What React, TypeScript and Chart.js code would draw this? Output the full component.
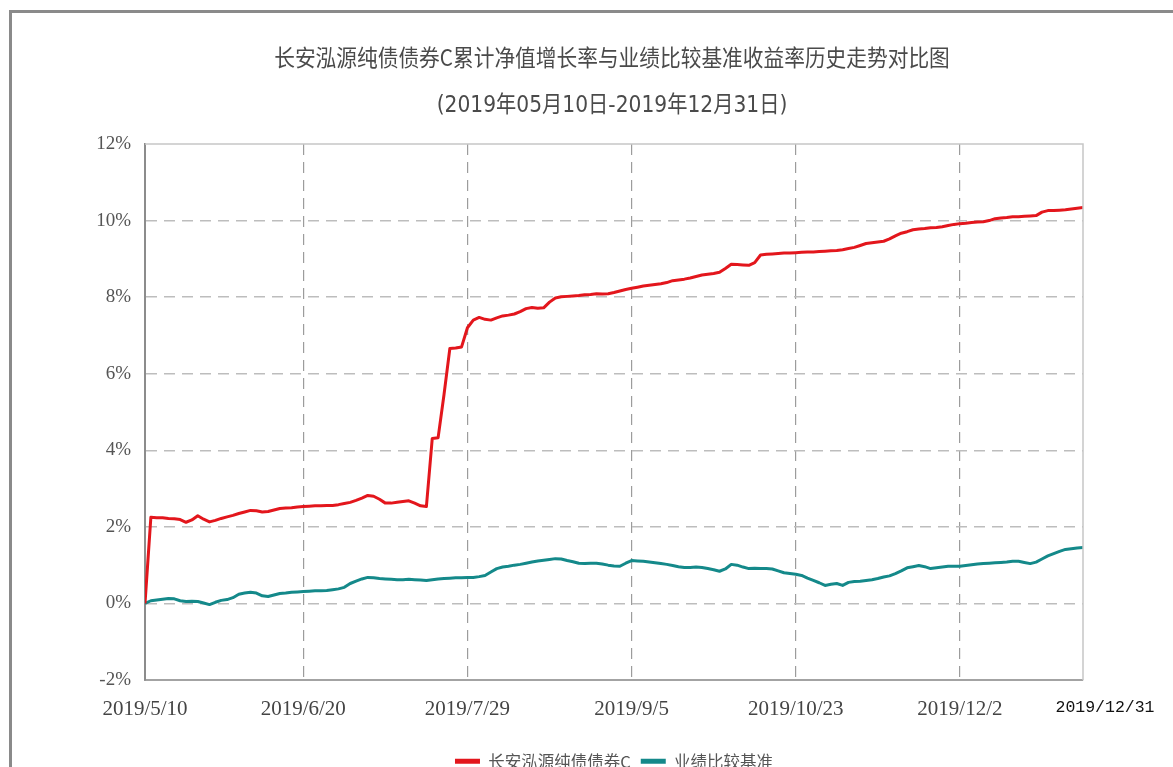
import { useEffect, useRef } from "react";
import { Chart, registerables } from "chart.js";

Chart.register(...registerables);

const titleText = "长安泓源纯债债券C累计净值增长率与业绩比较基准收益率历史走势对比图";
const subtitleText = "(2019年05月10日-2019年12月31日)";
const seriesNames = ["长安泓源纯债债券C", "业绩比较基准"];
const seriesColors = ["#e3161c", "#14898a"];

const xTickIndex = [0, 27, 55, 83, 111, 139];
const xTickLabels = ["2019/5/10", "2019/6/20", "2019/7/29", "2019/9/5", "2019/10/23", "2019/12/2"];
const lastIndex = 160;
const lastLabel = "2019/12/31";
const yMin = -2;
const yMax = 12;
const yStep = 2;

const fundValues = [
  0, 2.25, 2.24, 2.24, 2.22, 2.21, 2.19, 2.12, 2.18, 2.29,
  2.2, 2.13, 2.17, 2.22, 2.26, 2.3, 2.35, 2.39, 2.43, 2.42,
  2.39, 2.4, 2.44, 2.48, 2.49, 2.5, 2.52, 2.53, 2.54, 2.55,
  2.55, 2.56, 2.56, 2.58, 2.61, 2.64, 2.69, 2.75, 2.82, 2.8,
  2.72, 2.62, 2.62, 2.64, 2.66, 2.68, 2.62, 2.55, 2.53, 4.31,
  4.33, 5.45, 6.66, 6.67, 6.7, 7.2, 7.4, 7.47, 7.42, 7.4,
  7.46, 7.51, 7.53, 7.56, 7.62, 7.7, 7.73, 7.71, 7.72, 7.87,
  7.98, 8.01, 8.02, 8.03, 8.04, 8.06, 8.07, 8.09, 8.08, 8.09,
  8.12, 8.16, 8.2, 8.23, 8.26, 8.29, 8.31, 8.33, 8.35, 8.38,
  8.43, 8.45, 8.47, 8.5, 8.54, 8.58, 8.6, 8.62, 8.65, 8.75,
  8.86, 8.85, 8.84, 8.83, 8.9, 9.1, 9.12, 9.13, 9.14, 9.15,
  9.15, 9.16, 9.17, 9.18, 9.18, 9.19, 9.2, 9.21, 9.22, 9.24,
  9.27, 9.3, 9.35, 9.4, 9.42, 9.44, 9.46, 9.52, 9.6, 9.67,
  9.71, 9.76, 9.78, 9.79, 9.81, 9.82, 9.84, 9.87, 9.9, 9.92,
  9.93, 9.95, 9.96, 9.97, 10.0, 10.05, 10.07, 10.08, 10.1, 10.1,
  10.11, 10.12, 10.13, 10.22, 10.26, 10.26, 10.27, 10.28, 10.3, 10.32, 10.34,
];

const benchValues = [
  0, 0.07, 0.09, 0.11, 0.13, 0.12, 0.07, 0.05, 0.06, 0.05,
  0.01, -0.03, 0.03, 0.08, 0.1, 0.15, 0.24, 0.27, 0.29, 0.27,
  0.2, 0.18, 0.22, 0.26, 0.27, 0.29, 0.3, 0.31, 0.32, 0.33,
  0.33, 0.34, 0.36, 0.38, 0.42, 0.52, 0.58, 0.64, 0.68, 0.67,
  0.65, 0.64, 0.63, 0.62, 0.62, 0.63, 0.62, 0.61, 0.6, 0.62,
  0.64, 0.65, 0.66, 0.67, 0.67, 0.68, 0.68, 0.7, 0.73, 0.82,
  0.91, 0.95, 0.97, 1.0, 1.02, 1.05, 1.08, 1.11, 1.13, 1.15,
  1.17, 1.16, 1.12, 1.09, 1.05, 1.04, 1.05, 1.05, 1.03, 1.0,
  0.98, 0.97, 1.05, 1.12, 1.11, 1.1, 1.08, 1.06, 1.04, 1.02,
  0.99, 0.96, 0.94, 0.94, 0.95, 0.94, 0.91, 0.88, 0.84, 0.9,
  1.02, 1.0, 0.95, 0.91, 0.92, 0.91, 0.91, 0.9, 0.85, 0.8,
  0.78, 0.76, 0.73, 0.66, 0.6, 0.54, 0.47, 0.5, 0.52, 0.47,
  0.55, 0.57, 0.58, 0.6, 0.62, 0.65, 0.69, 0.72, 0.78, 0.85,
  0.93, 0.96, 0.99, 0.96, 0.91, 0.93, 0.95, 0.97, 0.97, 0.97,
  0.99, 1.01, 1.03, 1.04, 1.05, 1.06, 1.07, 1.08, 1.1, 1.1,
  1.07, 1.04, 1.08, 1.16, 1.24, 1.3, 1.36, 1.41, 1.43, 1.45, 1.46,
];

const decorPlugin = {
  id: "decor",
  afterDraw(chart: any) {
    const ctx = chart.ctx as CanvasRenderingContext2D;
    const a = chart.chartArea;
    ctx.save();
    // plot frame (top & right)
    ctx.strokeStyle = "#c6c6c6";
    ctx.lineWidth = 1.5;
    ctx.beginPath();
    ctx.moveTo(a.left, a.top);
    ctx.lineTo(a.right, a.top);
    ctx.lineTo(a.right, a.bottom);
    ctx.stroke();

    // titles (condensed)
    ctx.fillStyle = "#4a4a4a";
    ctx.textAlign = "center";
    ctx.textBaseline = "middle";
    ctx.save();
    ctx.translate(612, 57);
    ctx.scale(0.9, 1);
    ctx.font = '23px "Noto Sans CJK SC"';
    ctx.fillText(titleText, 0, 0);
    ctx.restore();
    ctx.save();
    ctx.translate(612, 106);
    ctx.scale(0.88, 1);
    ctx.font = '23px "DejaVu Sans", "Noto Sans CJK SC"';
    ctx.fillText(subtitleText, 0, 0);
    ctx.restore();

    // last date label
    const xs = chart.scales.x;
    ctx.font = '16.5px "Liberation Mono"';
    ctx.fillStyle = "#111";
    ctx.fillText(lastLabel, xs.getPixelForValue(lastIndex) + 22, 708);
    ctx.restore();
  },
};

export default function App() {
  const ref = useRef<HTMLCanvasElement>(null);

  useEffect(() => {
    document.body.style.margin = "0";
    const canvas = ref.current!;
    const chart = new Chart(canvas, {
      type: "line",
      data: {
        datasets: [
          {
            label: seriesNames[0],
            data: fundValues.map((v, i) => ({ x: i, y: v })),
            borderColor: seriesColors[0],
            backgroundColor: seriesColors[0],
            borderWidth: 3,
            pointRadius: 0,
            tension: 0,
            borderJoinStyle: "round",
          },
          {
            label: seriesNames[1],
            data: benchValues.map((v, i) => ({ x: i, y: v })),
            borderColor: seriesColors[1],
            backgroundColor: seriesColors[1],
            borderWidth: 3,
            pointRadius: 0,
            tension: 0,
            borderJoinStyle: "round",
          },
        ],
      },
      options: {
        animation: false,
        responsive: false,
        devicePixelRatio: 1,
        layout: { padding: { top: 144, right: 90, left: 0, bottom: 20.5 } },
        plugins: {
          title: { display: false },
          tooltip: { enabled: false },
          legend: {
            display: true,
            position: "bottom",
            fullSize: false,
            labels: {
              boxWidth: 25,
              boxHeight: 5,
              padding: 10,
              color: "#555",
              font: { family: '"Noto Sans CJK SC"', size: 16.5 },
              generateLabels: (c: any) =>
                Chart.defaults.plugins.legend.labels
                  .generateLabels(c)
                  .map((l: any) => ({ ...l, lineWidth: 0 })),
            },
          },
        },
        scales: {
          x: {
            type: "linear",
            min: 0,
            max: lastIndex,
            afterBuildTicks: (axis: any) => {
              axis.ticks = xTickIndex.map((v) => ({ value: v }));
            },
            afterFit: (axis: any) => {
              axis.height = 63;
            },
            ticks: {
              autoSkip: false,
              maxRotation: 0,
              padding: 17,
              color: "#444",
              font: { family: '"Liberation Serif"', size: 21 },
              callback: (v: any) => {
                const k = xTickIndex.indexOf(Number(v));
                return k >= 0 ? xTickLabels[k] : "";
              },
            },
            grid: {
              drawTicks: false,
              lineWidth: 1.2,
              color: (c: any) => (c.tick && c.tick.value === 0 ? "rgba(0,0,0,0)" : "#9c9c9c"),
            },
            border: { display: true, color: "#a3a3a3", width: 2, dash: [11, 7] },
          },
          y: {
            min: yMin,
            max: yMax,
            afterFit: (axis: any) => {
              axis.width = 145;
            },
            ticks: {
              stepSize: yStep,
              padding: 14,
              color: "#555",
              font: { family: '"Liberation Serif"', size: 19 },
              callback: (v: any) => `${v}%`,
            },
            grid: {
              drawTicks: false,
              lineWidth: 1.5,
              color: (c: any) =>
                c.tick && (c.tick.value === yMin || c.tick.value === yMax) ? "rgba(0,0,0,0)" : "#bdbdbd",
            },
            border: { display: true, color: "#8c8c8c", width: 2, dash: [11, 7] },
          },
        },
      },
      plugins: [decorPlugin],
    } as any);
    return () => chart.destroy();
  }, []);

  return (
    <div style={{ position: "relative", width: 1173, height: 767, overflow: "hidden", background: "#fff" }}>
      <div
        style={{
          position: "absolute",
          left: 9,
          top: 10,
          width: 1300,
          height: 900,
          borderTop: "3px solid #8a8a8a",
          borderLeft: "3px solid #8a8a8a",
        }}
      />
      <canvas
        ref={ref}
        width={1173}
        height={800}
        style={{ position: "absolute", left: 0, top: 0, width: 1173, height: 800 }}
      />
    </div>
  );
}
